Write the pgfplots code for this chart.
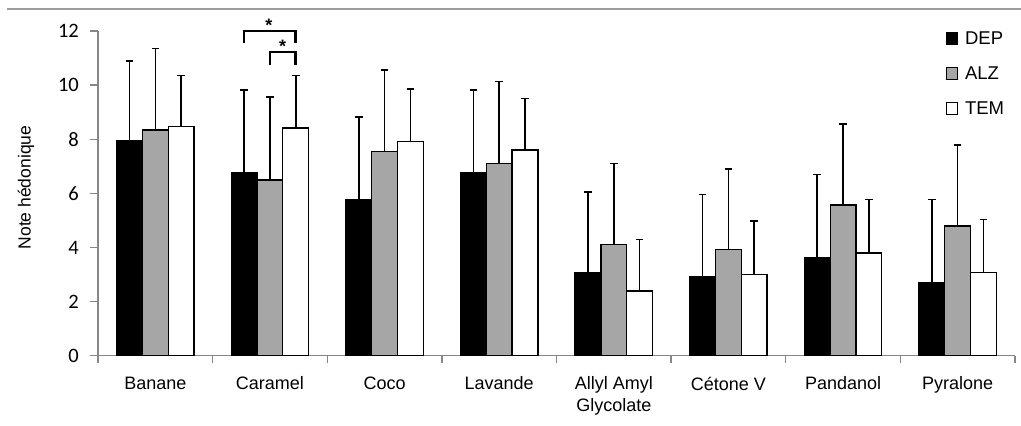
\documentclass[border=0pt]{standalone}
\usepackage{fontspec}
\setmainfont{Liberation Sans}
\newfontfamily\carlito{Carlito}
\usepackage{pgfplots}
\usepackage{pgfplotstable}
\pgfplotsset{compat=1.18}
\definecolor{alzgray}{RGB}{166,166,166}
\definecolor{axgray}{RGB}{134,134,134}

% x = category index, y = mean, e = upper error
\pgfplotstableread{
x y e
0 7.93 2.97
1 6.75 3.07
2 5.78 3.04
3 6.75 3.07
4 3.08 2.98
5 2.91 3.05
6 3.62 3.08
7 2.71 3.06
}\dep
\pgfplotstableread{
x y e
0 8.34 3.01
1 6.49 3.06
2 7.54 3.01
3 7.11 3.02
4 4.10 3.01
5 3.93 2.98
6 5.57 3.00
7 4.79 3.00
}\alz
\pgfplotstableread{
x y e
0 8.46 1.90
1 8.41 1.95
2 7.91 1.95
3 7.60 1.90
4 2.39 1.91
5 3.01 1.97
6 3.80 1.97
7 3.08 1.95
}\tem

\begin{document}
\begin{tikzpicture}
\useasboundingbox (0,0) rectangle (1021bp,-426bp);
\draw[axgray!80, line width=1.3bp] (7bp,-9bp) -- (1021bp,-9bp);
\begin{axis}[
  at={(98bp,-355.7bp)}, anchor=south west,
  scale only axis, width=917bp, height=324.7bp,
  xmin=-0.5, xmax=7.5, ymin=0, ymax=12,
  ybar=0pt, bar width=0.225,
  axis x line*=bottom, axis y line*=left,
  axis line style={axgray, line width=1.3bp, -},
  ytick={0,2,...,12},
  xtick={0,...,7},
  xticklabels={Banane, Caramel, Coco, Lavande, {Allyl Amyl\\Glycolate}, Cétone V, Pandanol, Pyralone},
  minor xtick={-0.5,0.5,...,7.5},
  major x tick style={draw=none},
  minor x tick style={axgray, line width=1.3bp},
  y tick style={axgray, line width=1.3bp},
  tick align=outside,
  major tick length=8bp, minor tick length=7bp,
  xticklabel style={font=\fontsize{18bp}{21.7bp}\selectfont, align=center, anchor=north, inner sep=0pt, yshift=-13bp},
  yticklabel style={font=\carlito\fontsize{20.5bp}{24bp}\selectfont, anchor=east, inner sep=0pt, xshift=-11bp},
  /pgf/number format/assume math mode=true,
  ylabel={Note hédonique},
  ylabel style={font=\fontsize{17.5bp}{21bp}\selectfont, at={(axis description cs:-0.0785,0.518)}, anchor=center},
  clip=false,
  legend style={draw=none, fill=none, inner sep=0pt, outer sep=0pt,
    at={(axis description cs:0.9247,0.997)}, anchor=north west,
    font=\fontsize{18.5bp}{21bp}\selectfont, row sep=18bp,
    nodes={inner sep=0pt, text height=13bp, text depth=4bp}},
  legend cell align=left,
]
\addplot[fill=black, draw=black, line width=1.3bp,
  legend image code/.code={\draw[fill=black, draw=black, line width=1bp] (0bp,-4bp) rectangle (11.5bp,8bp); \path (18bp,0);},
  error bars/.cd, y dir=plus, y explicit,
  error bar style={black, line width=1.6bp},
  error mark options={rotate=90, black, line width=1.6bp, mark size=3.8bp}]
  table[x=x, y=y, y error plus=e] {\dep};
\addlegendentry{DEP}
\addplot[fill=alzgray, draw=black, line width=1.3bp,
  legend image code/.code={\draw[fill=alzgray, draw=black, line width=1bp] (0bp,-4bp) rectangle (11.5bp,8bp); \path (18bp,0);},
  error bars/.cd, y dir=plus, y explicit,
  error bar style={black, line width=1.6bp},
  error mark options={rotate=90, black, line width=1.6bp, mark size=3.8bp}]
  table[x=x, y=y, y error plus=e] {\alz};
\addlegendentry{ALZ}
\addplot[fill=white, draw=black, line width=1.3bp,
  legend image code/.code={\draw[fill=white, draw=black, line width=1bp] (0bp,-4bp) rectangle (11.5bp,8bp); \path (18bp,0);},
  error bars/.cd, y dir=plus, y explicit,
  error bar style={black, line width=1.6bp},
  error mark options={rotate=90, black, line width=1.6bp, mark size=3.8bp}]
  table[x=x, y=y, y error plus=e] {\tem};
\addlegendentry{TEM}
% significance brackets (Caramel)
\draw[black, line width=2.6bp] (axis cs:0.775,11.57) -- (axis cs:0.775,12.0) -- (axis cs:1.225,12.0) -- (axis cs:1.225,11.57);
\draw[black, line width=2.6bp] (axis cs:1.0,10.74) -- (axis cs:1.0,11.23) -- (axis cs:1.225,11.23) -- (axis cs:1.225,10.74);
\node[font=\bfseries\fontsize{18bp}{20bp}\selectfont, inner sep=0pt] at (axis cs:0.99,12.22) {*};
\node[font=\bfseries\fontsize{18bp}{20bp}\selectfont, inner sep=0pt] at (axis cs:1.11,11.43) {*};
\end{axis}
\end{tikzpicture}
\end{document}
